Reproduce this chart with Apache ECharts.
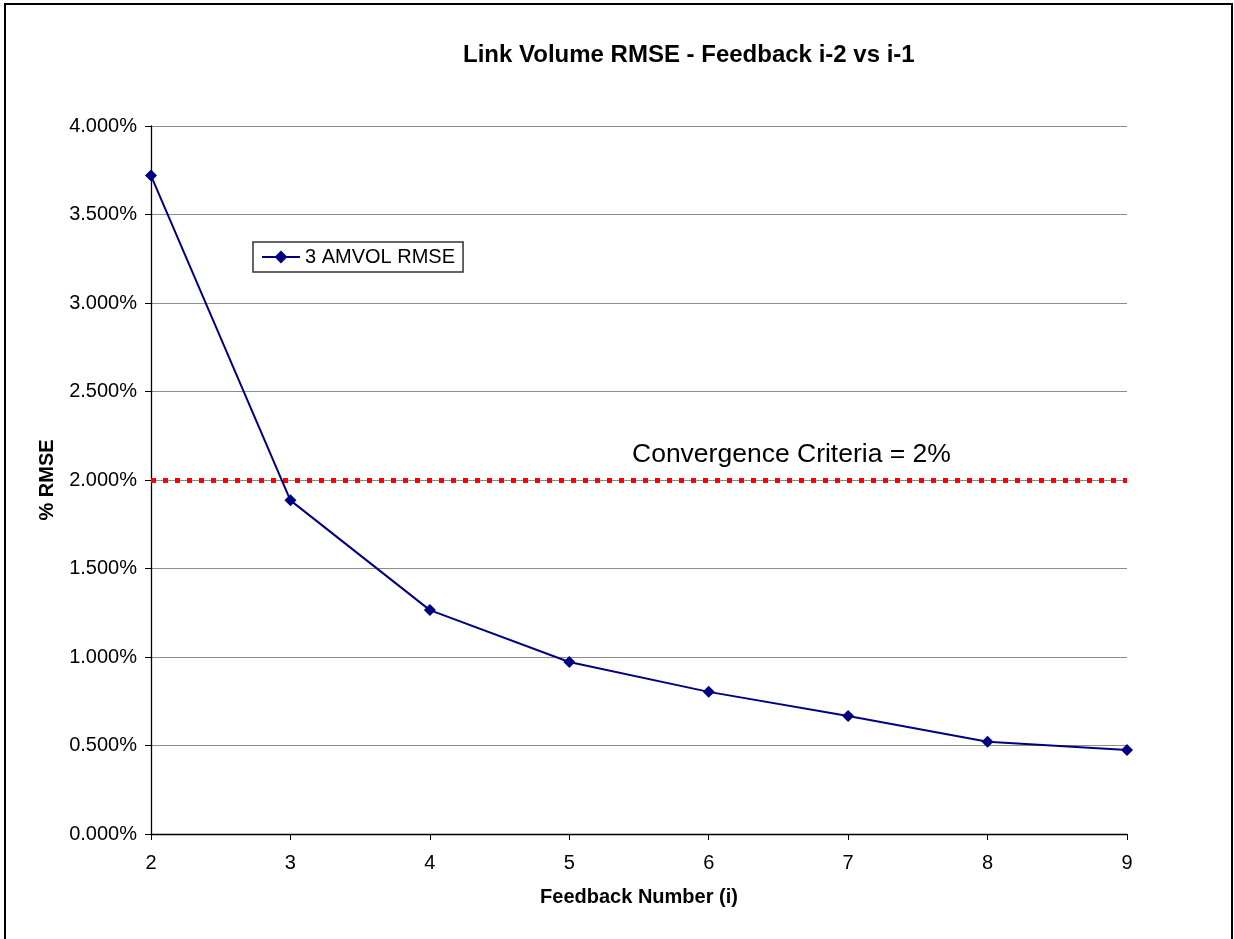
<!DOCTYPE html>
<html>
<head>
<meta charset="utf-8">
<script src="https://cdn.jsdelivr.net/npm/echarts@6/dist/echarts.min.js"></script>
<style>
  html, body { margin: 0; padding: 0; background: #fff; }
  #chart { width: 1234px; height: 939px; }
</style>
</head>
<body>
<div id="chart"></div>
<script>
"use strict"

const feedbackNumbers = [2, 3, 4, 5, 6, 7, 8, 9]
const rmsePercent = [3.72, 1.885, 1.265, 0.972, 0.803, 0.667, 0.521, 0.474]
const criteriaPercent = 2
const seriesName = "3 AMVOL RMSE"

const font = "Liberation Sans, Arial, sans-serif"

const chart = echarts.init(document.getElementById("chart"), null, { renderer: "canvas" })

chart.setOption({
  animation: false,
  backgroundColor: "#fff",
  title: {
    text: "Link Volume RMSE - Feedback i-2 vs i-1",
    left: 458,
    top: 38,
    textStyle: { fontFamily: font, fontSize: 24, fontWeight: "bold", color: "#000" },
  },
  legend: {
    left: 253,
    top: 242,
    orient: "vertical",
    padding: [5, 8, 5, 8],
    borderColor: "#333",
    borderWidth: 1.5,
    itemWidth: 38,
    itemHeight: 16,
    itemGap: 0,
    textStyle: { fontFamily: font, fontSize: 20, color: "#000" },
    data: [seriesName],
  },
  grid: { left: 151, right: 107, top: 126, bottom: 105, containLabel: false },
  xAxis: {
    type: "value",
    min: 2,
    max: 9,
    interval: 1,
    name: "Feedback Number (i)",
    nameLocation: "middle",
    nameGap: 53,
    nameTextStyle: { fontFamily: font, fontSize: 20, fontWeight: "bold", color: "#000" },
    axisLine: { lineStyle: { color: "#000", width: 1.3 } },
    axisTick: { inside: false, length: 6, lineStyle: { color: "#000" } },
    axisLabel: { fontFamily: font, fontSize: 20, color: "#000", margin: 19 },
    splitLine: { show: false },
  },
  yAxis: {
    type: "value",
    min: 0,
    max: 4,
    interval: 0.5,
    name: "% RMSE",
    nameLocation: "middle",
    nameGap: 94,
    nameRotate: 90,
    nameTextStyle: { fontFamily: font, fontSize: 20, fontWeight: "bold", color: "#000" },
    axisLine: { show: true, lineStyle: { color: "#000", width: 1.3 } },
    axisTick: { show: true, length: 6, lineStyle: { color: "#000" } },
    axisLabel: {
      fontFamily: font, fontSize: 20, color: "#000", margin: 14,
      formatter: (v) => v.toFixed(3) + "%",
    },
    splitLine: { lineStyle: { color: "#8c8c8c", width: 1 } },
  },
  graphic: [
    {
      type: "rect",
      shape: { x: 5, y: 4, width: 1227, height: 960 },
      style: { fill: "none", stroke: "#000", lineWidth: 2 },
      silent: true,
    },
    {
      type: "text",
      left: 632,
      top: 441,
      style: { text: "Convergence Criteria = 2%", fontFamily: font, fontSize: 26.5, fill: "#000" },
    },
  ],
  series: [
    {
      name: seriesName,
      type: "line",
      data: feedbackNumbers.map((x, i) => [x, rmsePercent[i]]),
      symbol: "diamond",
      symbolSize: 12,
      lineStyle: { color: "#000080", width: 2 },
      itemStyle: { color: "#000080" },
      z: 3,
      markLine: {
        silent: true,
        symbol: "none",
        label: { show: false },
        lineStyle: { color: "#ff0000", width: 5, type: [5, 7] },
        data: [{ yAxis: criteriaPercent }],
        z: 2,
      },
    },
  ],
})
</script>
</body>
</html>
